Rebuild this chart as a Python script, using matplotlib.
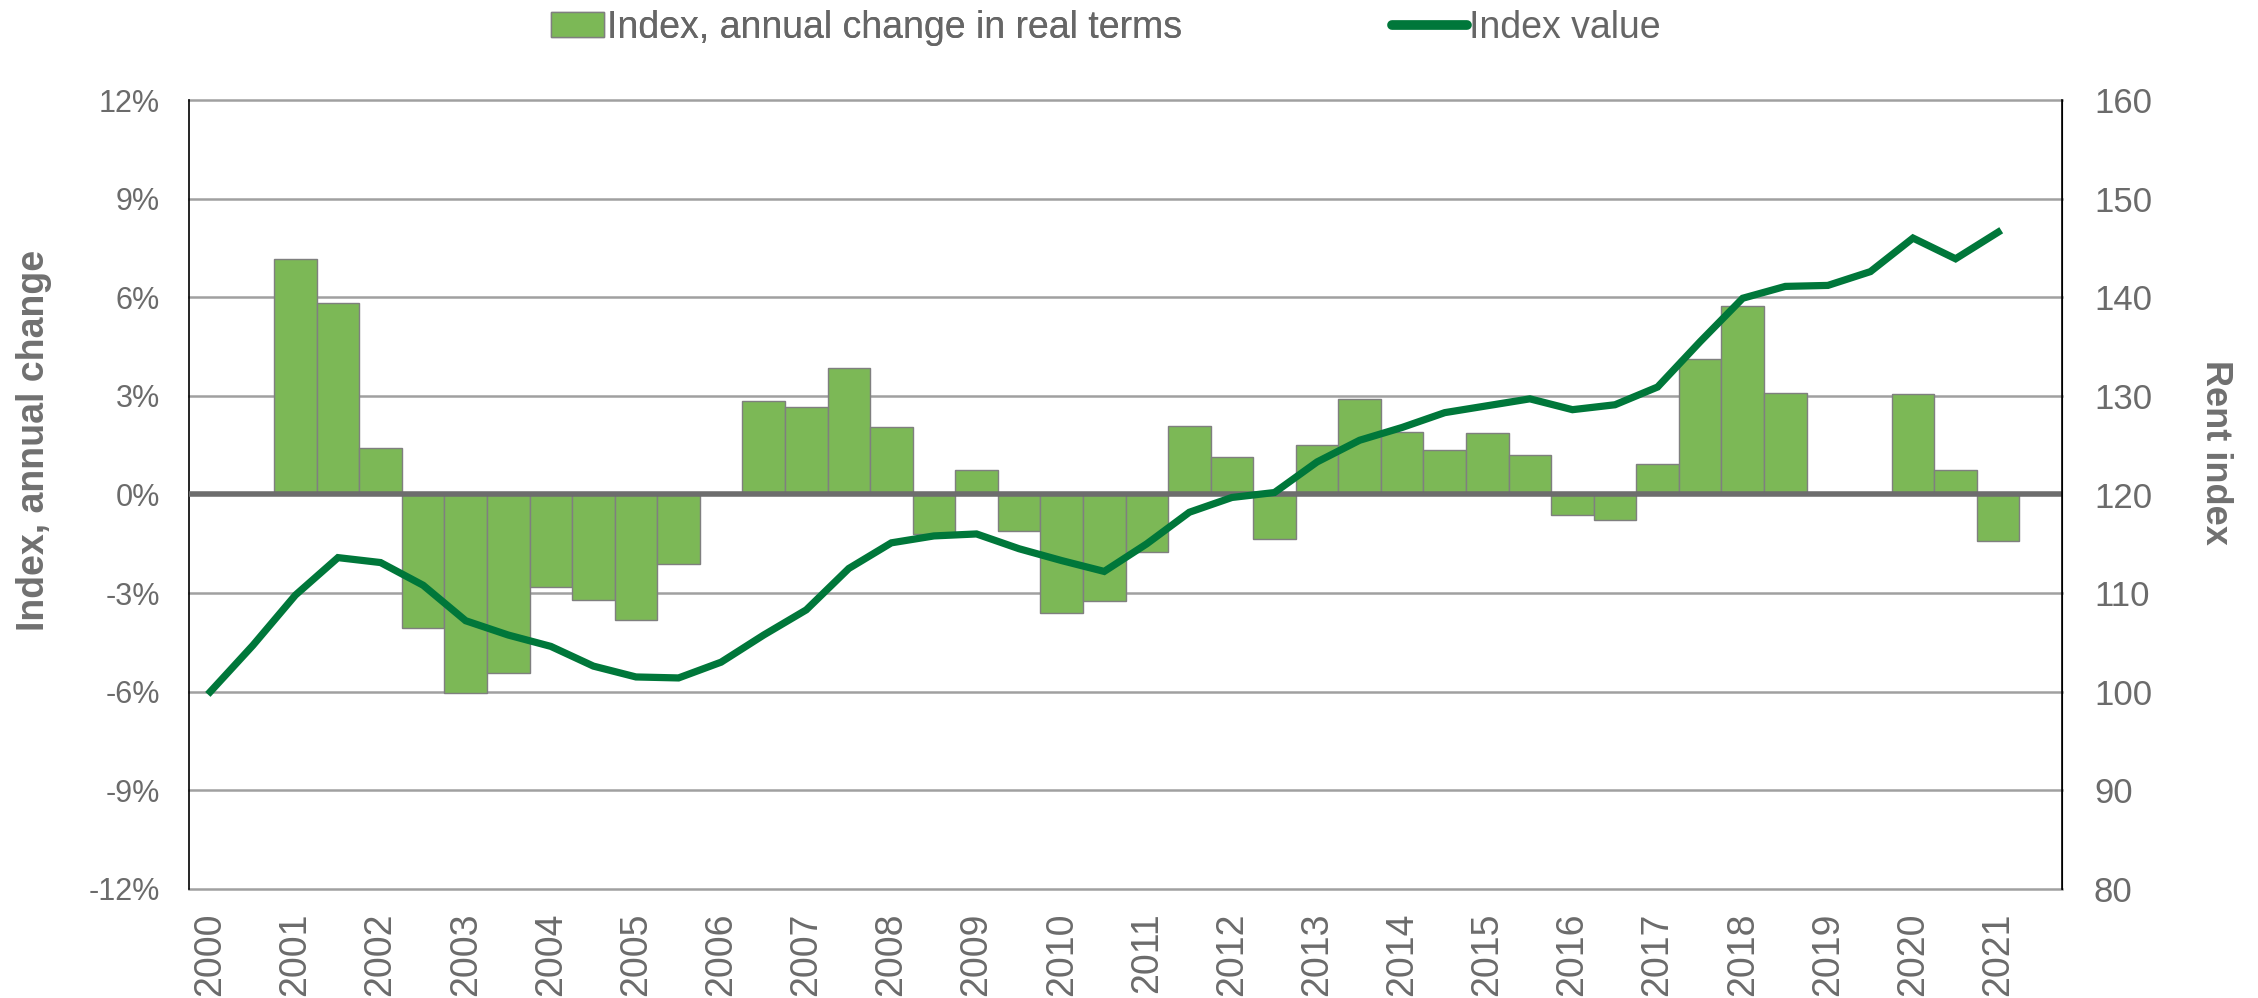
import numpy as np
import matplotlib.pyplot as plt
from matplotlib.lines import Line2D
from matplotlib.patches import Patch

nan = np.nan
years = list(range(2000, 2022))
# half-year periods 2000, 2000.5, ... 2021.5
annual_change = [nan, nan, 7.17, 5.82, 1.40, -4.05, -6.03, -5.42, -2.80, -3.20,
                 -3.81, -2.10, nan, 2.84, 2.66, 3.85, 2.04, -1.20, 0.75, -1.12,
                 -3.60, -3.25, -1.76, 2.07, 1.13, -1.34, 1.50, 2.90, 1.91, 1.34,
                 1.88, 1.21, -0.61, -0.79, 0.93, 4.11, 5.73, 3.10, nan, nan,
                 3.05, 0.74, -1.42, nan]
index_value = [100.0, 104.7, 109.8, 113.6, 113.1, 110.8, 107.2, 105.75, 104.6, 102.6,
               101.5, 101.4, 103.0, 105.75, 108.3, 112.5, 115.1, 115.8, 116.0, 114.5,
               113.3, 112.2, 115.0, 118.2, 119.7, 120.2, 123.3, 125.5, 126.8, 128.3,
               129.0, 129.7, 128.6, 129.1, 130.9, 135.5, 139.9, 141.1, 141.2, 142.6,
               146.0, 143.9, 146.6, nan]
left_ticks = [-12, -9, -6, -3, 0, 3, 6, 9, 12]
right_ticks = [80, 90, 100, 110, 120, 130, 140, 150, 160]

bar_col = '#7cb856'
line_col = '#00773a'
txt_col = '#6b6b6b'
grid_col = '#a0a0a0'

plt.rcParams['font.family'] = ['Liberation Sans', 'DejaVu Sans']

fig = plt.figure(figsize=(22.58, 9.98), dpi=100)
ax = fig.add_axes([189/2258, 1-889/998, (2062-189)/2258, (889-100)/998])
x = np.arange(len(annual_change))

ax.set_xlim(-0.5, len(annual_change) - 0.5)
ax.set_ylim(-12, 12)
ax.set_yticks(left_ticks)
ax.set_yticklabels([f'{t}%' for t in left_ticks])
for t in left_ticks:
    if t != 0:
        ax.axhline(t, color=grid_col, lw=1.8, zorder=1, clip_on=False)
ax.bar(x, annual_change, width=1.0, color=bar_col, edgecolor='#7f7f7f', linewidth=1.0, zorder=2)
ax.axhline(0, color='#6d6d6d', lw=4, zorder=3)

ax.set_xticks(x[::2])
ax.set_xticklabels([str(y) for y in years], rotation=90, fontsize=27, color=txt_col)
ax.tick_params(axis='x', length=0, pad=17)
ax.tick_params(axis='y', length=0, pad=21, labelsize=22, labelcolor=txt_col)
for s in ['top', 'bottom']:
    ax.spines[s].set_visible(False)
ax.spines['left'].set_color('black')
ax.spines['left'].set_linewidth(1.2)

ax2 = ax.twinx()
ax2.set_ylim(80, 160)
ax2.set_yticks(right_ticks)
ax2.tick_params(axis='y', length=0, pad=23, labelsize=25, labelcolor=txt_col)
ax2.plot(x, index_value, color=line_col, lw=5.2, zorder=4, solid_joinstyle='miter')
for s in ['top', 'bottom', 'left']:
    ax2.spines[s].set_visible(False)
ax2.spines['right'].set_color('black')
ax2.spines['right'].set_linewidth(1.2)

fig.text(34/2258, 1-440/998, 'Index, annual change', rotation=90, fontsize=27,
         fontweight='bold', color='#707070', ha='center', va='center')
fig.text(2216/2258, 1-452/998, 'Rent index', rotation=-90, fontsize=26,
         fontweight='bold', color='#707070', ha='center', va='center')

# legend, two separate pieces so each handle gets its own length
leg1 = fig.legend([Patch(facecolor=bar_col, edgecolor='#7f7f7f', linewidth=1.0)],
                  ['Index, annual change in real terms'], frameon=False,
                  loc='center left', bbox_to_anchor=(551/2258, 1-28/998),
                  fontsize=27, labelcolor='#666666', handlelength=1.4,
                  handleheight=0.65, handletextpad=0.1, borderpad=0, borderaxespad=0)
leg2 = fig.legend([Line2D([0], [0], color=line_col, lw=7, solid_capstyle='round')],
                  ['Index value'], frameon=False,
                  loc='center left', bbox_to_anchor=(1392/2258, 1-28/998),
                  fontsize=27, labelcolor='#666666', handlelength=2.0,
                  handletextpad=0.05, borderpad=0, borderaxespad=0)
fig.add_artist(leg1)

fig.savefig('out.png', dpi=100)
